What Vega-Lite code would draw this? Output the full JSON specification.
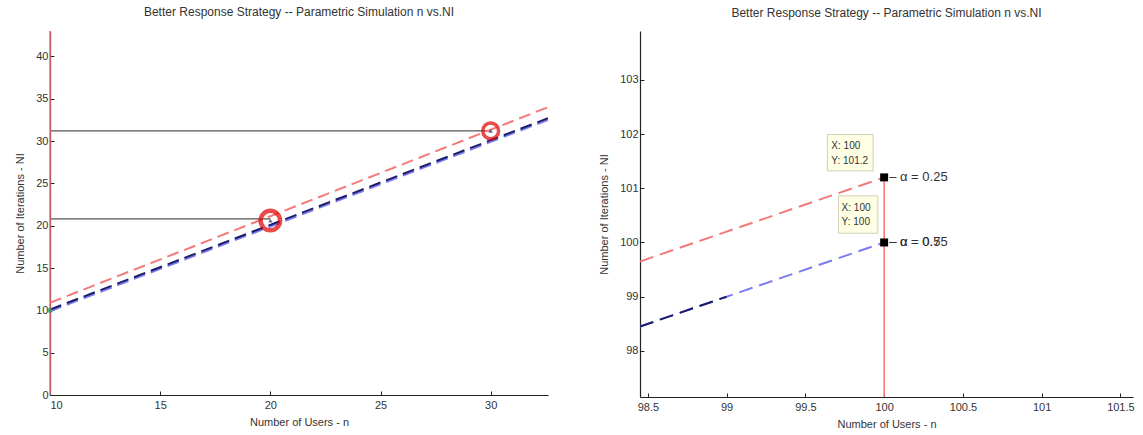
{
  "$schema": "https://vega.github.io/schema/vega-lite/v6.json",
  "background": "white",
  "padding": {"left": 14, "top": 6, "right": 0, "bottom": 2},
  "spacing": 50,
  "config": {
    "view": {"stroke": null},
    "font": "Liberation Sans",
    "axis": {
      "grid": false,
      "labelFont": "Liberation Sans",
      "labelFontSize": 11,
      "labelColor": "#333333",
      "titleFont": "Liberation Sans",
      "titleFontSize": 11,
      "titleFontWeight": "normal",
      "titleColor": "#333333",
      "domainColor": "#222222",
      "domainWidth": 1.2,
      "tickColor": "#222222",
      "tickSize": -4,
      "labelPadding": 6,
      "format": "~g"
    },
    "axisX": {"titlePadding": 6, "labelPadding": 8},
    "axisY": {"titlePadding": 10},
    "title": {"font": "Liberation Sans", "fontSize": 12, "fontWeight": "normal", "color": "#333333", "frame": "group", "offset": 11}
  },
  "datasets": {
    "leftLines": [
      {"series": "a075", "n": 10, "ni": 9.9},
      {"series": "a075", "n": 32.6, "ni": 32.5},
      {"series": "a05", "n": 10, "ni": 10.1},
      {"series": "a05", "n": 32.6, "ni": 32.7},
      {"series": "a025", "n": 10, "ni": 10.9},
      {"series": "a025", "n": 32.6, "ni": 34.0}
    ],
    "leftH": [
      {"n": 10, "n2": 20, "ni": 20.8},
      {"n": 10, "n2": 30, "ni": 31.2}
    ],
    "leftCircles": [
      {"n": 20, "ni": 20.6, "kind": "big"},
      {"n": 30, "ni": 31.2, "kind": "small"}
    ],
    "rightLines": [
      {"series": "a075", "n": 98.45, "ni": 98.45},
      {"series": "a075", "n": 100, "ni": 100},
      {"series": "a05", "n": 98.45, "ni": 98.45},
      {"series": "a05", "n": 99.0, "ni": 99.0},
      {"series": "a025", "n": 98.45, "ni": 99.65},
      {"series": "a025", "n": 100, "ni": 101.2}
    ],
    "rightMarks": [
      {"n": 100, "ni": 101.2},
      {"n": 100, "ni": 100}
    ],
    "rightLabels": [
      {"n": 100, "ni": 101.2, "label": "– α = 0.25"},
      {"n": 100, "ni": 100, "label": "– α = 0.75"},
      {"n": 100, "ni": 100, "label": "– α = 0.5"}
    ],
    "tipBoxes": [
      {"n": 99.64, "n2": 99.93, "ni": 101.99, "ni2": 101.32},
      {"n": 99.71, "n2": 99.96, "ni": 100.86, "ni2": 100.17}
    ],
    "tipTexts": [
      {"n": 99.665, "ni": 101.77, "label": "X: 100"},
      {"n": 99.665, "ni": 101.5, "label": "Y: 101.2"},
      {"n": 99.73, "ni": 100.64, "label": "X: 100"},
      {"n": 99.73, "ni": 100.37, "label": "Y: 100"}
    ]
  },
  "hconcat": [
    {
      "width": 498,
      "height": 364,
      "title": {"text": "Better Response Strategy -- Parametric Simulation n vs.NI"},
      "encoding": {
        "x": {"field": "n", "type": "quantitative", "scale": {"domain": [10, 32.6], "nice": false, "zero": false}, "axis": {"values": [10, 15, 20, 25, 30], "title": "Number of Users - n"}},
        "y": {"field": "ni", "type": "quantitative", "scale": {"domain": [0, 43], "nice": false, "zero": false}, "axis": {"values": [0, 5, 10, 15, 20, 25, 30, 35, 40], "title": "Number of Iterations - NI"}}
      },
      "layer": [
        {
          "data": {"name": "leftH"},
          "mark": {"type": "rule", "color": "#555555", "strokeWidth": 1.2},
          "encoding": {"x2": {"field": "n2"}}
        },
        {
          "data": {"name": "leftLines"},
          "mark": {"type": "line", "strokeDash": [12, 6], "strokeWidth": 2, "clip": true},
          "encoding": {
            "color": {"field": "series", "type": "nominal", "scale": {"domain": ["a075", "a05", "a025"], "range": ["#7b7bf2", "#1c1c6a", "#f47a7a"]}, "legend": null},
            "order": {"field": "n", "type": "quantitative"}
          }
        },
        {
          "data": {"values": [{"n": 10}]},
          "mark": {"type": "rule", "color": "#ff6e6e", "strokeWidth": 1.5},
          "encoding": {"y": null}
        },
        {
          "data": {"name": "leftCircles"},
          "transform": [{"filter": "datum.kind == 'big'"}],
          "mark": {"type": "point", "shape": "circle", "filled": false, "color": "#e00000", "strokeWidth": 4.5, "size": 380}
        },
        {
          "data": {"name": "leftCircles"},
          "transform": [{"filter": "datum.kind == 'small'"}],
          "mark": {"type": "point", "shape": "circle", "filled": false, "color": "#e00000", "strokeWidth": 3.5, "size": 250}
        },
        {
          "data": {"name": "leftCircles"},
          "mark": {"type": "point", "shape": "triangle-up", "filled": true, "color": "#203050", "size": 18}
        },
        {
          "data": {"values": [{"n": 10, "ni": 10}]},
          "mark": {"type": "point", "shape": "square", "filled": true, "color": "#1a9a50", "size": 20}
        }
      ]
    },
    {
      "width": 493,
      "height": 366,
      "title": {"text": "Better Response Strategy -- Parametric Simulation n vs.NI"},
      "encoding": {
        "x": {"field": "n", "type": "quantitative", "scale": {"domain": [98.45, 101.58], "nice": false, "zero": false}, "axis": {"values": [98.5, 99, 99.5, 100, 100.5, 101, 101.5], "title": "Number of Users - n"}},
        "y": {"field": "ni", "type": "quantitative", "scale": {"domain": [97.15, 103.9], "nice": false, "zero": false}, "axis": {"values": [98, 99, 100, 101, 102, 103], "title": "Number of Iterations - NI"}}
      },
      "layer": [
        {
          "data": {"name": "rightLines"},
          "mark": {"type": "line", "strokeDash": [14, 7], "strokeWidth": 2, "clip": true},
          "encoding": {
            "color": {"field": "series", "type": "nominal", "scale": {"domain": ["a075", "a05", "a025"], "range": ["#7b7bf2", "#1c1c6a", "#f47a7a"]}, "legend": null},
            "order": {"field": "n", "type": "quantitative"}
          }
        },
        {
          "data": {"values": [{"n": 100, "ni": 101.2, "bottom": 97.15}]},
          "mark": {"type": "rule", "color": "#ff6e6e", "strokeWidth": 1.5},
          "encoding": {"y2": {"field": "bottom"}}
        },
        {
          "data": {"name": "tipBoxes"},
          "mark": {"type": "rect", "fill": "#ffffe6", "stroke": "#cfcfb8", "strokeWidth": 1},
          "encoding": {"x2": {"field": "n2"}, "y2": {"field": "ni2"}}
        },
        {
          "data": {"name": "tipTexts"},
          "mark": {"type": "text", "align": "left", "baseline": "middle", "fontSize": 10, "color": "#333333", "font": "Liberation Sans"},
          "encoding": {"text": {"field": "label"}}
        },
        {
          "data": {"name": "rightMarks"},
          "mark": {"type": "point", "shape": "square", "filled": true, "color": "#000000", "opacity": 1, "size": 64}
        },
        {
          "data": {"name": "rightLabels"},
          "mark": {"type": "text", "align": "left", "baseline": "middle", "dx": 5, "fontSize": 13, "color": "#333333", "font": "Liberation Sans"},
          "encoding": {"text": {"field": "label"}}
        }
      ]
    }
  ]
}
